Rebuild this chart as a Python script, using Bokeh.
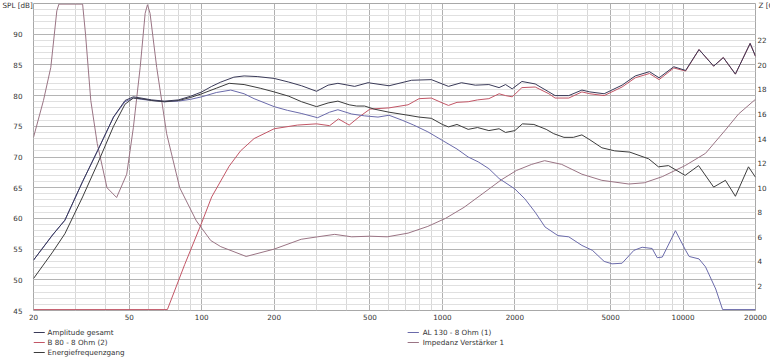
from bokeh.plotting import figure
from bokeh.layouts import column
from bokeh.models import (Range1d, LinearAxis, FixedTicker, PrintfTickFormatter, Label)
from bokeh.core.properties import value
from bokeh.embed import file_html
from bokeh.resources import INLINE

# ---------------- data ----------------
x_ticks = [20, 50, 100, 200, 500, 1000, 2000, 5000, 10000, 20000]
x_minor = [30, 40, 60, 70, 80, 90, 300, 400, 600, 700, 800, 900,
           3000, 4000, 6000, 7000, 8000, 9000]
spl_ticks = [45, 50, 55, 60, 65, 70, 75, 80, 85, 90]
z_ticks = [2, 4, 6, 8, 10, 12, 14, 16, 18, 20, 22]

amp_f = [20, 24, 27, 32, 37, 43, 48, 52, 56, 62, 70, 80, 90, 100, 110, 120, 136, 150, 170,
         200, 230, 260, 300, 335, 368, 432, 491, 600, 745, 900, 1060, 1200, 1370, 1560,
         1720, 1830, 1950, 2140, 2430, 2770, 2940, 3350, 3800, 4100, 4700, 5580, 6330,
         7250, 7950, 9150, 10250, 11650, 13400, 14700, 16500, 19000, 20000]
amp_v = [53.2, 57.3, 59.7, 66.0, 71.1, 76.5, 79.2, 79.8, 79.6, 79.3, 79.1, 79.3, 79.9,
         80.6, 81.5, 82.2, 83.0, 83.2, 83.1, 82.8, 82.2, 81.6, 80.7, 81.7, 82.0, 81.5,
         82.1, 81.6, 82.5, 82.6, 81.5, 82.1, 81.7, 81.8, 81.3, 81.8, 81.1, 82.3, 81.9,
         80.6, 80.0, 80.0, 80.9, 80.6, 80.3, 81.7, 83.2, 83.9, 82.9, 84.7, 84.1, 87.5,
         84.8, 86.2, 83.5, 88.5, 86.4]

en_f = [20, 24, 27, 32, 37, 43, 48, 52, 56, 62, 70, 80, 90, 100, 115, 130, 150, 175, 200,
        230, 260, 300, 335, 368, 410, 440, 475, 520, 600, 720, 800, 900, 1000, 1060, 1150,
        1280, 1400, 1560, 1720, 1830, 2000, 2150, 2400, 2700, 2900, 3200, 3500, 3800,
        4100, 4600, 5200, 6000, 7200, 7900, 8700, 10200, 11600, 13400, 15000, 16500,
        18700, 20000]
en_v = [50.2, 54.5, 57.5, 63.5, 69.0, 75.0, 78.6, 79.6, 79.5, 79.2, 79.0, 79.2, 79.7,
        80.3, 81.2, 82.0, 81.8, 81.2, 80.6, 79.9, 79.0, 78.2, 78.8, 79.1, 78.5, 78.3,
        78.3, 77.8, 77.3, 76.8, 76.5, 76.3, 75.3, 74.9, 75.3, 74.5, 74.8, 74.3, 74.6,
        74.0, 74.3, 75.4, 75.3, 74.5, 73.8, 73.2, 73.2, 73.6, 72.8, 71.5, 71.0, 70.8,
        69.7, 68.4, 68.6, 67.0, 68.6, 65.1, 66.2, 63.6, 68.4, 66.7]

al_f = [20, 24, 27, 32, 37, 43, 48, 52, 56, 62, 70, 80, 90, 100, 115, 132, 150, 165, 200,
        227, 259, 303, 340, 368, 420, 475, 540, 600, 680, 760, 870, 1000, 1150, 1280, 1410,
        1560, 1720, 2000, 2200, 2430, 2670, 3020, 3350, 3800, 4200, 4700, 5070, 5580, 6250,
        6760, 7440, 7810, 8200, 9300, 10250, 10600, 11650, 12400, 13670, 14600, 20000]
al_v = [53.2, 57.3, 59.7, 66.0, 71.1, 76.5, 79.0, 79.6, 79.4, 79.2, 79.0, 79.1, 79.4,
        79.8, 80.5, 80.9, 80.3, 79.5, 78.2, 77.6, 77.1, 76.4, 77.3, 77.7, 77.0, 76.7,
        76.5, 76.8, 76.0, 75.2, 74.1, 72.7, 71.3, 70.0, 69.2, 68.1, 66.5, 64.8, 63.2,
        61.0, 58.6, 57.2, 57.0, 55.6, 54.8, 53.0, 52.6, 52.7, 54.8, 55.3, 55.1, 53.6,
        53.7, 58.0, 54.8, 53.8, 53.4, 52.1, 48.5, 45.15, 45.15]

b80_f = [20, 72, 85, 100, 110, 130, 145, 165, 200, 250, 300, 340, 370, 410, 450, 500, 600,
         720, 800, 900, 1000, 1060, 1150, 1280, 1400, 1560, 1720, 1830, 1950, 2140, 2430,
         2770, 2940, 3350, 3800, 4100, 4700, 5580, 6330, 7250, 7950, 9150, 10250, 11650,
         13400, 14700, 16500, 19000, 20000]
b80_v = [45.15, 45.15, 52.5, 59.3, 63.5, 68.5, 71.0, 73.0, 74.6, 75.2, 75.4, 75.1, 76.2,
         75.2, 76.5, 77.8, 78.0, 78.5, 79.5, 79.6, 78.8, 78.4, 78.9, 79.0, 79.3, 79.5,
         80.3, 80.0, 79.8, 81.3, 81.4, 80.3, 79.6, 79.6, 80.6, 80.3, 80.0, 81.4, 82.9,
         83.6, 82.6, 84.5, 84.0, 87.5, 84.8, 86.2, 83.5, 88.5, 86.4]

imp_f = [20, 22, 23.6, 25, 25.5, 32, 32.9, 34.6, 36.8, 40.4, 44.3, 48.8, 52, 55.5, 58.2,
         59.5, 61, 65, 71.5, 81, 95, 109, 120, 153, 200, 259, 303, 357, 420, 500, 590, 720,
         870, 1030, 1230, 1490, 1760, 2030, 2350, 2660, 3130, 3800, 4600, 5950, 6900, 8200,
         10200, 12400, 15000, 17000, 20000]
imp_v = [14.1, 17.1, 19.8, 24.4, 24.95, 24.95, 22.5, 17.1, 13.6, 10.0, 9.2, 11.1, 14.9,
         19.8, 24.2, 24.9, 24.2, 19.8, 14.4, 10.0, 7.3, 5.7, 5.2, 4.4, 5.0, 5.8, 6.0, 6.2,
         6.0, 6.05, 6.0, 6.3, 6.85, 7.5, 8.4, 9.6, 10.65, 11.4, 11.9, 12.2, 11.9, 11.1,
         10.6, 10.3, 10.4, 10.9, 11.8, 12.8, 14.7, 16.0, 17.2]

names_left = ["Amplitude gesamt", "B 80 - 8 Ohm (2)", "Energiefrequenzgang"]
names_right = ["AL 130 - 8 Ohm (1)", "Impedanz Verstärker 1"]

# ---------------- styling ----------------
FONT = "DejaVu Sans"
FS = "7.2px"
TXT = "#333333"
C_AMP = "#3a3a58"
C_B80 = "#c25666"
C_EN = "#3c3c3c"
C_AL = "#6a6aaa"
C_IMP = "#9a7484"

TOP = 25  # room for the axis-title panel, shifted out of view below
p = figure(width=770, height=TOP + 307 + 15, x_axis_type="log",
           x_range=Range1d(20, 20000), y_range=Range1d(45, 95),
           output_backend="svg", toolbar_location=None,
           min_border_left=33, min_border_right=15, min_border_top=TOP,
           min_border_bottom=15)
p.styles = {"margin-top": "-%dpx" % (TOP - 3)}
p.extra_y_ranges = {"z": Range1d(0, 25)}
p.background_fill_color = "white"
p.border_fill_color = "white"
p.outline_line_color = "#a8a8a8"

xa = p.xaxis[0]
xa.ticker = FixedTicker(ticks=x_ticks, minor_ticks=x_minor)
xa.formatter = PrintfTickFormatter(format="%d")
ya = p.yaxis[0]
ya.ticker = FixedTicker(ticks=spl_ticks, minor_ticks=list(range(45, 96)))
ya.formatter = PrintfTickFormatter(format="%d")

za = LinearAxis(y_range_name="z", ticker=FixedTicker(ticks=z_ticks),
                formatter=PrintfTickFormatter(format="%d"))
p.add_layout(za, "right")

for ax in (xa, ya, za):
    ax.axis_line_color = None
    ax.major_tick_line_color = None
    ax.minor_tick_line_color = None
    ax.major_tick_out = 0
    ax.minor_tick_out = 0
    ax.major_tick_in = 0
    ax.minor_tick_in = 0
    ax.major_label_text_font = FONT
    ax.major_label_text_font_size = FS
    ax.major_label_text_color = TXT
xa.major_label_standoff = 3
ya.major_label_standoff = 11
za.major_label_standoff = 2

p.xgrid.grid_line_color = "#b0b0b0"
p.xgrid.minor_grid_line_color = "#d8d8d8"
p.ygrid.grid_line_color = "#b4b4b4"
p.ygrid.minor_grid_line_color = "#e0e0e0"

p.line(imp_f, imp_v, color=C_IMP, line_width=1, y_range_name="z")
p.line(b80_f, b80_v, color=C_B80, line_width=1)
p.line(al_f, al_v, color=C_AL, line_width=1)
p.line(en_f, en_v, color=C_EN, line_width=1)
p.line(amp_f, amp_v, color=C_AMP, line_width=1)

# axis titles (placed in a side panel so that they are not clipped to the frame)
p.add_layout(Label(x=20, y=95, text="SPL [dB]", x_offset=-31, y_offset=-2,
                   text_baseline="middle", text_font=FONT, text_font_size=FS,
                   text_color=TXT), "above")
p.add_layout(Label(x=20000, y=25, y_range_name="z", text="Z [Ohm]", x_offset=3,
                   y_offset=-2, text_baseline="middle", text_font=FONT,
                   text_font_size=FS, text_color=TXT), "above")

# ---------------- legend strip (two columns) ----------------
lg = figure(width=770, height=32, x_range=Range1d(0, 770), y_range=Range1d(32, 0),
            output_backend="svg", toolbar_location=None,
            x_axis_location=None, y_axis_location=None,
            min_border_left=0, min_border_right=0, min_border_top=0, min_border_bottom=0)
lg.grid.visible = False
lg.outline_line_color = None
lg.background_fill_color = "white"
lg.border_fill_color = "white"

rows_l = [7, 17, 27]
rows_r = [7, 17]
lg.segment(x0=[0, 0, 0], y0=rows_l, x1=[12, 12, 12], y1=rows_l,
           color=[C_AMP, C_B80, C_EN], line_width=1)
lg.text(x=[15, 15, 15], y=rows_l, text=names_left, text_font=value(FONT),
        text_font_size=value(FS), text_color=TXT, text_baseline="middle")
lg.segment(x0=[399, 399], y0=rows_r, x1=[411, 411], y1=rows_r,
           color=[C_AL, C_IMP], line_width=1)
lg.text(x=[415, 415], y=rows_r, text=names_right, text_font=value(FONT),
        text_font_size=value(FS), text_color=TXT, text_baseline="middle")

layout = column(p, lg, spacing=0)
open("out.html", "w").write(file_html(layout, INLINE))
